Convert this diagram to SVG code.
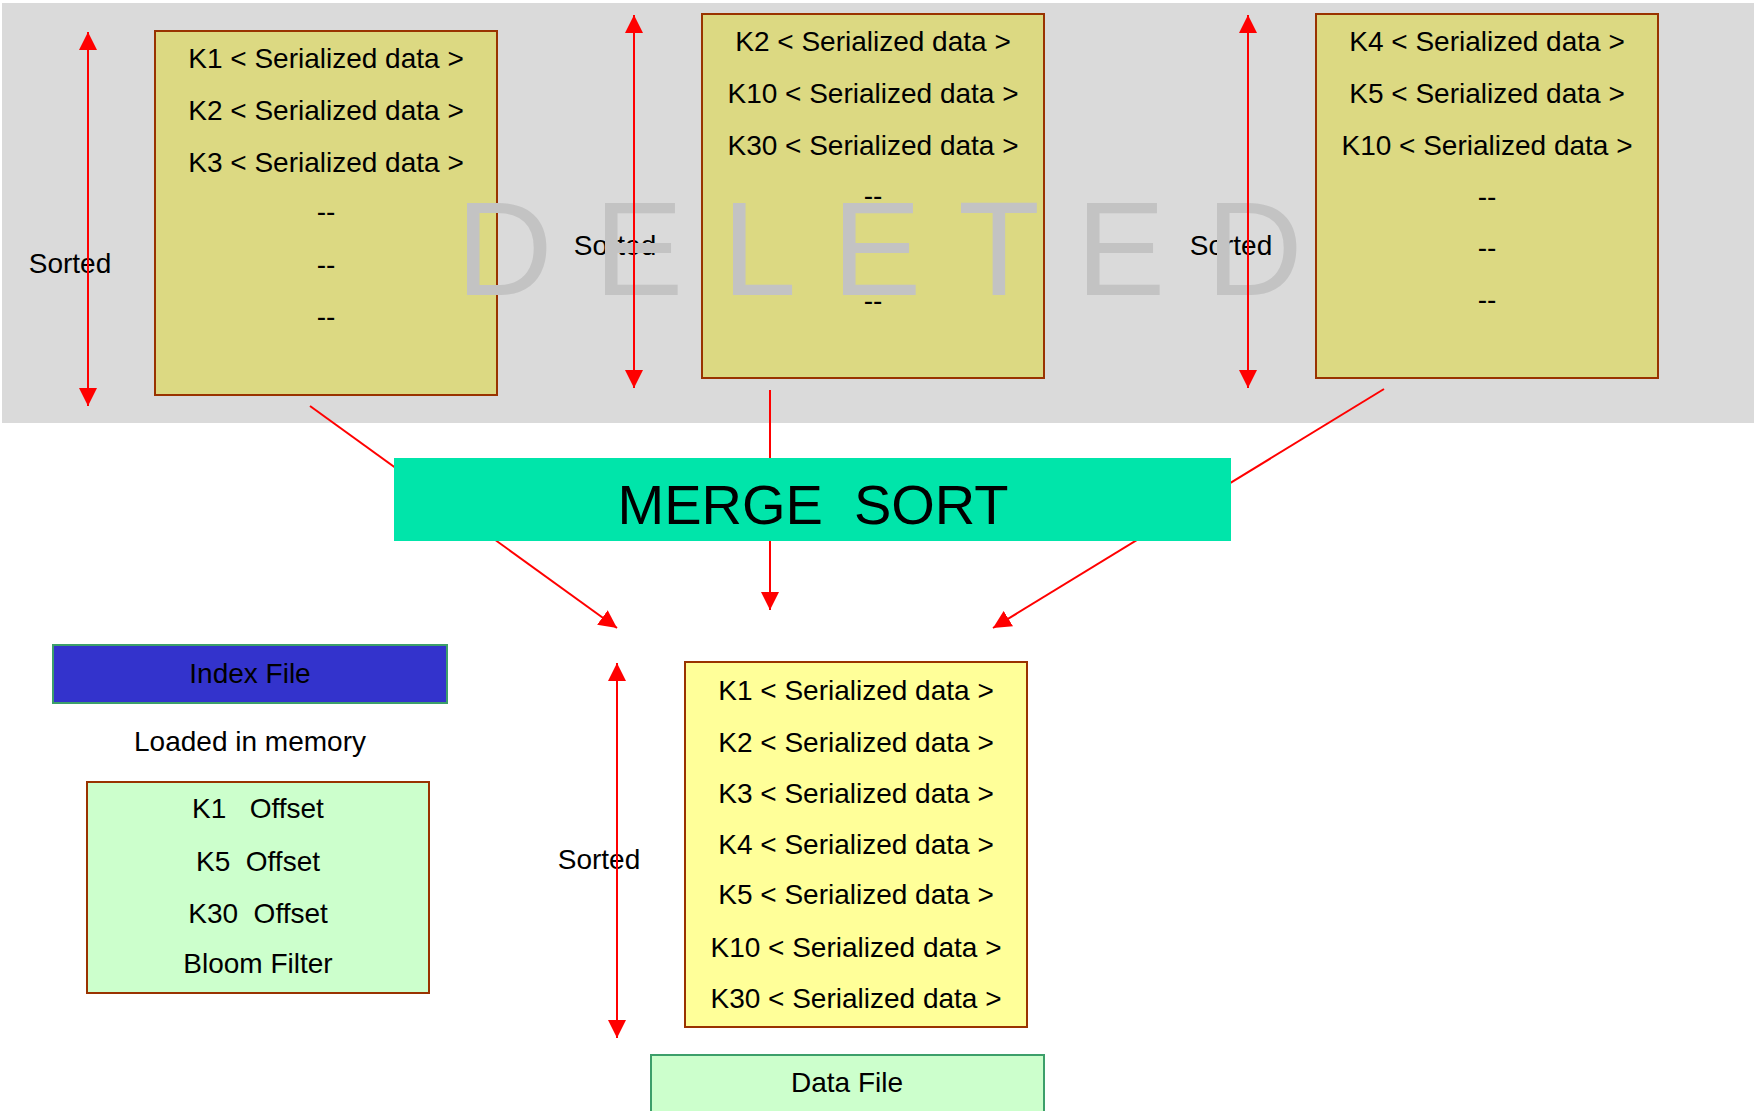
<svg xmlns="http://www.w3.org/2000/svg" width="1754" height="1111" viewBox="0 0 1754 1111">
<style>
text{font-family:"Liberation Sans",Arial,sans-serif;fill:#000}
.t{font-size:28px;text-anchor:middle;white-space:pre}
.box{fill:#dcd982;stroke:#993300;stroke-width:2}
.out{fill:#ffff99;stroke:#993300;stroke-width:2}
.idx{fill:#ccffcc;stroke:#993300;stroke-width:2}
.conn{stroke:#ff0000;stroke-width:2;fill:none}
.wm{font-size:134px;fill:#c3c3c3}
</style>
<defs>
<marker id="ah" markerUnits="userSpaceOnUse" markerWidth="18" markerHeight="18" viewBox="0 0 16 16" refX="16" refY="8" orient="auto-start-reverse">
<path d="M0,0 L16,8 L0,16 Z" fill="#ff0000"/>
</marker>
</defs>
<rect id="band" x="2" y="3" width="1752" height="420" fill="#dadada"/>
<g id="node-run1">
<rect class="box" x="155" y="31" width="342" height="364"/>
<text class="t" x="326" y="68">K1 &lt; Serialized data &gt;</text>
<text class="t" x="326" y="120">K2 &lt; Serialized data &gt;</text>
<text class="t" x="326" y="172">K3 &lt; Serialized data &gt;</text>
<text class="t" x="326" y="221">--</text>
<text class="t" x="326" y="274">--</text>
<text class="t" x="326" y="326">--</text>
</g>
<g id="node-run2">
<rect class="box" x="702" y="14" width="342" height="364"/>
<text class="t" x="873" y="51">K2 &lt; Serialized data &gt;</text>
<text class="t" x="873" y="103">K10 &lt; Serialized data &gt;</text>
<text class="t" x="873" y="155">K30 &lt; Serialized data &gt;</text>
<text class="t" x="873" y="205">--</text>
<text class="t" x="873" y="257">--</text>
<text class="t" x="873" y="310">--</text>
</g>
<g id="node-run3">
<rect class="box" x="1316" y="14" width="342" height="364"/>
<text class="t" x="1487" y="51">K4 &lt; Serialized data &gt;</text>
<text class="t" x="1487" y="103">K5 &lt; Serialized data &gt;</text>
<text class="t" x="1487" y="155">K10 &lt; Serialized data &gt;</text>
<text class="t" x="1487" y="206">--</text>
<text class="t" x="1487" y="257">--</text>
<text class="t" x="1487" y="309">--</text>
</g>
<g id="labels-sorted">
<text class="t" x="70" y="273">Sorted</text>
<text class="t" x="615" y="255">Sorted</text>
<text class="t" x="1231" y="255">Sorted</text>
<text class="t" x="599" y="869">Sorted</text>
</g>
<text id="watermark" class="wm" x="456 594 722 832 958 1076 1206" y="295">DELETED</text>
<g id="connectors">
<line class="conn" x1="310" y1="406" x2="617" y2="628" marker-end="url(#ah)"/>
<line class="conn" x1="770" y1="390" x2="770" y2="610" marker-end="url(#ah)"/>
<line class="conn" x1="1384" y1="389" x2="993" y2="628" marker-end="url(#ah)"/>
<line class="conn" x1="88" y1="32" x2="88" y2="406" marker-start="url(#ah)" marker-end="url(#ah)"/>
<line class="conn" x1="634" y1="15" x2="634" y2="388" marker-start="url(#ah)" marker-end="url(#ah)"/>
<line class="conn" x1="1248" y1="15" x2="1248" y2="388" marker-start="url(#ah)" marker-end="url(#ah)"/>
<line class="conn" x1="617" y1="663" x2="617" y2="1038" marker-start="url(#ah)" marker-end="url(#ah)"/>
</g>
<g id="node-merge">
<rect x="394" y="458" width="837" height="83" fill="#00e5aa"/>
<text x="813" y="524" style="font-size:56px;text-anchor:middle;white-space:pre">MERGE  SORT</text>
</g>
<g id="node-index-file">
<rect x="53" y="645" width="394" height="58" fill="#3333cc" stroke="#3c9f6a" stroke-width="2"/>
<text class="t" x="250" y="683">Index File</text>
</g>
<text id="loaded" class="t" x="250" y="751">Loaded in memory</text>
<g id="node-index">
<rect class="idx" x="87" y="782" width="342" height="211"/>
<text class="t" x="258" y="818">K1   Offset</text>
<text class="t" x="258" y="871">K5  Offset</text>
<text class="t" x="258" y="923">K30  Offset</text>
<text class="t" x="258" y="973">Bloom Filter</text>
</g>
<g id="node-output">
<rect class="out" x="685" y="662" width="342" height="365"/>
<text class="t" x="856" y="700">K1 &lt; Serialized data &gt;</text>
<text class="t" x="856" y="752">K2 &lt; Serialized data &gt;</text>
<text class="t" x="856" y="803">K3 &lt; Serialized data &gt;</text>
<text class="t" x="856" y="854">K4 &lt; Serialized data &gt;</text>
<text class="t" x="856" y="904">K5 &lt; Serialized data &gt;</text>
<text class="t" x="856" y="957">K10 &lt; Serialized data &gt;</text>
<text class="t" x="856" y="1008">K30 &lt; Serialized data &gt;</text>
</g>
<g id="node-data-file">
<rect x="651" y="1055" width="393" height="70" fill="#ccffcc" stroke="#3c9f6a" stroke-width="2"/>
<text class="t" x="847" y="1092">Data File</text>
</g>
</svg>
